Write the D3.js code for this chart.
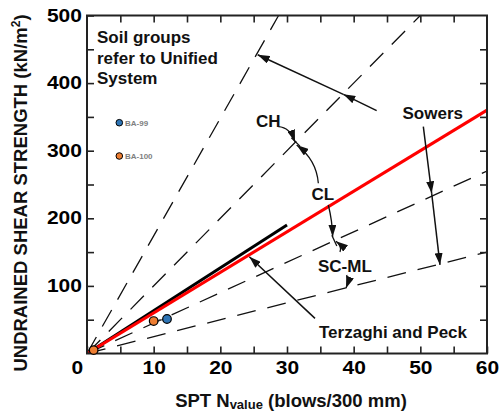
<!DOCTYPE html>
<html><head><meta charset="utf-8">
<script src="https://cdn.jsdelivr.net/npm/d3@7"></script>
<style>
body{margin:0;background:#fff}
svg{display:block}
text{font-family:"Liberation Sans",Arial,Helvetica,sans-serif;font-weight:bold}
</style>
</head><body>
<svg id="chart" width="502" height="412"></svg>
<script>
// ---------------- data ----------------
const xTickLabels = [0, 10, 20, 30, 40, 50, 60];
const yTickLabels = [100, 200, 300, 400, 500];
// Sowers bound lines (su = k * N), kN/m2 per blow
const boundSlopes = [17.4, 10, 4.5, 2.5];
const sowersRedLine = [[0, 0], [60, 360]];
const terzaghiPeckLine = [[0, 0], [30, 190]];
const seriesNames = ["BA-99", "BA-100"];
const ba99Points = [[12, 51]];
const ba100Points = [[1, 5], [10, 48]];
const seriesColors = ["#2E75B6", "#ED7D31"];

// ---------------- layout ----------------
const svg = d3.select("#chart");
const x = d3.scaleLinear().domain([0, 60]).range([87, 487]);
const y = d3.scaleLinear().domain([0, 500]).range([353.5, 15.5]);
const ink = "#111";

const defs = svg.append("defs");
defs.append("clipPath").attr("id", "plotClip").append("rect")
  .attr("x", x(0)).attr("y", y(500)).attr("width", x(60) - x(0)).attr("height", y(0) - y(500));
defs.append("marker").attr("id", "ah").attr("viewBox", "0 0 12 8")
  .attr("refX", 12).attr("refY", 4).attr("markerWidth", 12).attr("markerHeight", 8)
  .attr("markerUnits", "userSpaceOnUse").attr("orient", "auto")
  .append("path").attr("d", "M0,0L12,4L0,8Z").attr("fill", ink);

const line = d3.line().x(d => x(d[0])).y(d => y(d[1]));
const plot = svg.append("g").attr("clip-path", "url(#plotClip)");

// dashed bound lines
boundSlopes.forEach(k => {
  const nEnd = Math.min(60, 500 / k);
  plot.append("path").datum([[0, 0], [nEnd, k * nEnd]])
    .attr("d", line).attr("fill", "none").attr("stroke", ink)
    .attr("stroke-width", 1.3).attr("stroke-dasharray", "19,12");
});

// Terzaghi & Peck (black) and Sowers (red)
plot.append("path").datum(terzaghiPeckLine).attr("d", line)
  .attr("fill", "none").attr("stroke", "#000").attr("stroke-width", 3);
plot.append("path").datum(sowersRedLine).attr("d", line)
  .attr("fill", "none").attr("stroke", "#ff0000").attr("stroke-width", 3);

// boundary ticks on dashed lines
function perpTick(k, n, len) {
  const px = x(n), py = y(k * n);
  const dx = x(1) - x(0), dy = y(k) - y(0);
  const L = Math.hypot(dx, dy);
  const ux = -dy / L, uy = dx / L;
  svg.append("line").attr("x1", px - ux * len).attr("y1", py - uy * len)
    .attr("x2", px + ux * len).attr("y2", py + uy * len)
    .attr("stroke", ink).attr("stroke-width", 1.3);
}
perpTick(boundSlopes[1], 31.3, 6);
perpTick(boundSlopes[2], 37.1, 6);

// ---------------- axes ----------------
const fmtX = d => (xTickLabels.includes(d) ? d : "");
const fmtY = d => (yTickLabels.includes(d) ? d : "");
const gB = svg.append("g").attr("transform", `translate(0,${y(0)})`)
  .call(d3.axisBottom(x).tickValues(d3.range(0, 61, 5)).tickSizeInner(-7).tickSizeOuter(0).tickPadding(8.5).tickFormat(fmtX));
const gT = svg.append("g").attr("transform", `translate(0,${y(500)})`)
  .call(d3.axisTop(x).tickValues(d3.range(5, 60, 5)).tickSizeInner(-7).tickSizeOuter(0).tickFormat(""));
const gL = svg.append("g").attr("transform", `translate(${x(0)},0)`)
  .call(d3.axisLeft(y).tickValues(d3.range(50, 501, 50)).tickSizeInner(-7).tickSizeOuter(0).tickPadding(4.2).tickFormat(fmtY));
const gR = svg.append("g").attr("transform", `translate(${x(60)},0)`)
  .call(d3.axisRight(y).tickValues(d3.range(50, 500, 50)).tickSizeInner(-7).tickSizeOuter(0).tickFormat(""));
[gB, gT, gL, gR].forEach(g => {
  g.select(".domain").remove();
  g.selectAll(".tick line").attr("stroke", "#222").attr("stroke-width", 1.6);
  g.selectAll("text").attr("font-size", 17.5).attr("fill", "#000")
    .attr("transform", "scale(1.2,1)")
    .attr("font-family", '"Liberation Sans",Arial,sans-serif').attr("font-weight", "bold");
});
gB.selectAll(".tick text").filter(d => d === 0).attr("dx", -8.5);

// frame
svg.append("rect").attr("x", x(0)).attr("y", y(500))
  .attr("width", x(60) - x(0)).attr("height", y(0) - y(500))
  .attr("fill", "none").attr("stroke", "#222").attr("stroke-width", 2);

// ---------------- annotation arrows ----------------
const straightArrows = [
  [[43.45, 359.2], [38.45, 383.4]],
  [[38.45, 383.4], [25.6, 442]],
  [[50.45, 335.5], [51.7, 237]],
  [[51.7, 237], [52.95, 131]],
  [[34.2, 52], [24.35, 143.2]]
];
straightArrows.forEach(a => {
  svg.append("path").attr("d", line(a)).attr("fill", "none")
    .attr("stroke", ink).attr("stroke-width", 1.5).attr("marker-end", "url(#ah)");
});
const curvedArrows = [
  [[28.7, 335.5], [30.45, 334.6], [31.2, 313.3]],
  [[34.7, 251.8], [34.42, 286.5], [31.45, 308.4]],
  [[36.2, 219.7], [36.8, 195.8], [36.85, 172.8]],
  [[37.95, 150], [38.3, 159], [37.35, 166]],
  [[38.95, 116.1], [39.2, 105.8], [38.85, 96.4]]
];
curvedArrows.forEach(c => {
  const p = d3.path();
  p.moveTo(x(c[0][0]), y(c[0][1]));
  p.quadraticCurveTo(x(c[1][0]), y(c[1][1]), x(c[2][0]), y(c[2][1]));
  svg.append("path").attr("d", p.toString()).attr("fill", "none")
    .attr("stroke", ink).attr("stroke-width", 1.3).attr("marker-end", "url(#ah)");
});

// ---------------- data points ----------------
svg.append("path").datum([ba100Points[1], ba99Points[0]]).attr("d", line)
  .attr("stroke", "#333").attr("stroke-width", 1.2).attr("fill", "none");
[[ba99Points, seriesColors[0]], [ba100Points, seriesColors[1]]].forEach(([pts, col]) => {
  svg.selectAll(null).data(pts).enter().append("circle")
    .attr("cx", d => x(d[0])).attr("cy", d => y(d[1])).attr("r", 4.3)
    .attr("fill", col).attr("stroke", "#000").attr("stroke-width", 1.2);
});

// legend
seriesNames.forEach((nm, i) => {
  const ly = 122.7 + i * 33.3;
  svg.append("circle").attr("cx", 119.3).attr("cy", ly).attr("r", 3.3)
    .attr("fill", seriesColors[i]).attr("stroke", "#000").attr("stroke-width", 1);
  svg.append("text").attr("x", 125).attr("y", ly + 2.9).attr("font-size", 8)
    .attr("fill", "#7f7f7f").text(nm);
});

// ---------------- texts ----------------
const labels = [
  ["Soil groups", 97, 43],
  ["refer to Unified", 97, 63.5],
  ["System", 97, 83.5],
  ["CH", 256, 127],
  ["CL", 311.5, 200],
  ["SC-ML", 318, 271.5],
  ["Sowers", 402.5, 118.5],
  ["Terzaghi and Peck", 319, 337.5]
];
labels.forEach(([t, lx, ly]) => {
  svg.append("text").attr("x", lx).attr("y", ly).attr("font-size", 17).attr("fill", ink).text(t);
});

// axis titles
const xt = svg.append("text").attr("x", 291).attr("y", 406.5).attr("text-anchor", "middle")
  .attr("font-size", 18.5).attr("fill", ink);
xt.append("tspan").text("SPT N");
xt.append("tspan").attr("font-size", 13).attr("dy", 2).text("value");
xt.append("tspan").attr("dy", -2).text(" (blows/300 mm)");

const yt = svg.append("text").attr("transform", "translate(27,193) rotate(-90)")
  .attr("text-anchor", "middle").attr("font-size", 18.5).attr("fill", ink);
yt.append("tspan").text("UNDRAINED SHEAR STRENGTH (kN/m");
yt.append("tspan").attr("font-size", 12).attr("dy", -7).text("2");
yt.append("tspan").attr("dy", 7).text(")");
</script>
</body></html>
